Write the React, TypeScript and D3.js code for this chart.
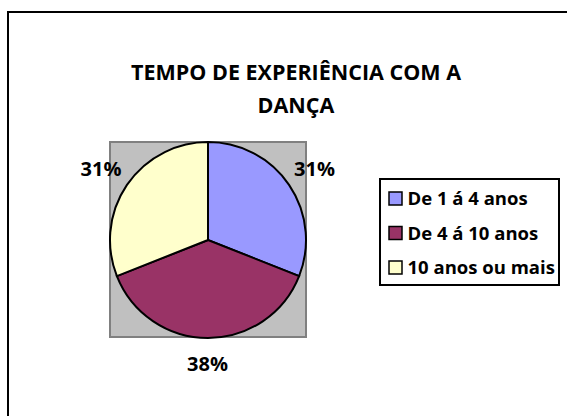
import React from "react";
import * as d3 from "d3";

const categories = ["De 1 á 4 anos", "De 4 á 10 anos", "10 anos ou mais"];
const values = [31, 38, 31];
const colors = ["#9999FF", "#993366", "#FFFFCC"];
const titleLines = ["TEMPO DE EXPERIÊNCIA COM A", "DANÇA"];

const FONT = "'Open Sans', 'Liberation Sans', Arial, sans-serif";

export default function App() {
  const cx = 208;
  const cy = 240;
  const r = 98;
  const pie = d3.pie<number>().sort(null).value((d) => d);
  const arcs = pie(values);
  const arc = d3.arc<d3.PieArcDatum<number>>().innerRadius(0).outerRadius(r);
  const total = d3.sum(values);
  const fmt = (v: number) => `${Math.round((v / total) * 100)}%`;

  const legendX = 380;
  const legendY = 179;
  const legendStep = 34.5;

  const labels = [
    { a: arcs[0], x: 314.5, y: 176 },
    { a: arcs[1], x: 207.5, y: 371 },
    { a: arcs[2], x: 101, y: 176 },
  ];

  return (
    <svg
      width={567}
      height={416}
      style={{ position: "absolute", left: 0, top: 0, background: "#fff" }}
    >
      <rect x={8} y={12} width={620} height={460} fill="#fff" stroke="#000" strokeWidth={2} />
      {titleLines.map((t, i) => (
        <text
          key={i}
          x={296}
          y={79.5 + i * 33.5}
          textAnchor="middle"
          fontFamily={FONT}
          fontWeight="bold"
          fontSize={21.5}
          fill="#000"
        >
          {t}
        </text>
      ))}
      <rect x={110} y={142} width={196} height={195} fill="#C0C0C0" stroke="#808080" strokeWidth={2} />
      <g transform={`translate(${cx},${cy})`}>
        {arcs.map((a, i) => (
          <path key={i} d={arc(a) || ""} fill={colors[i]} stroke="#000" strokeWidth={2} />
        ))}
      </g>
      {labels.map((l, i) => (
        <text
          key={i}
          x={l.x}
          y={l.y}
          textAnchor="middle"
          fontFamily={FONT}
          fontWeight="bold"
          fontSize={20}
          fill="#000"
        >
          {fmt(l.a.data)}
        </text>
      ))}
      <rect x={legendX} y={legendY} width={179} height={106} fill="#fff" stroke="#000" strokeWidth={2} />
      {categories.map((c, i) => (
        <g key={c} transform={`translate(${legendX + 9},${legendY + 13 + i * legendStep})`}>
          <rect x={0} y={0} width={13} height={13} fill={colors[i]} stroke="#000" strokeWidth={1.5} />
          <text x={18.5} y={13} fontFamily={FONT} fontWeight="bold" fontSize={18.5} fill="#000">
            {c}
          </text>
        </g>
      ))}
    </svg>
  );
}
